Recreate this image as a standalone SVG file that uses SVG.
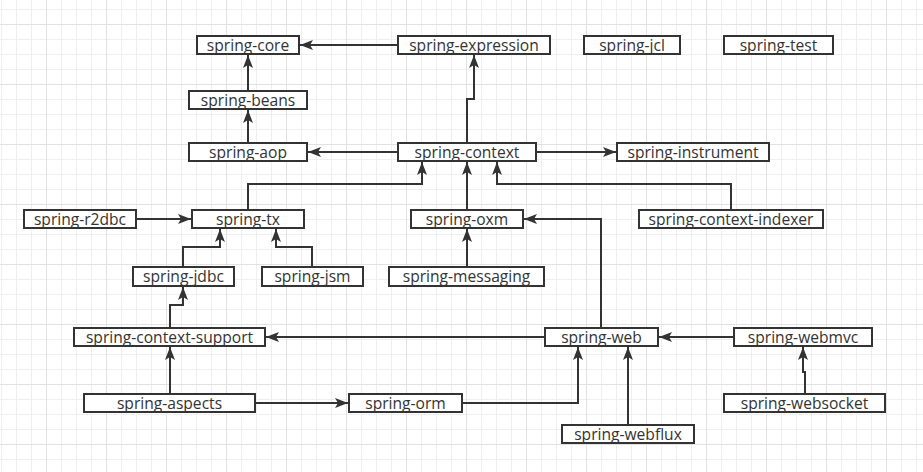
<svg xmlns="http://www.w3.org/2000/svg" width="923" height="472" viewBox="0 0 923 472">
<style>
.n rect{fill:#fff;stroke:#333;stroke-width:2}
.n text{font-family:"Open Sans","Noto Sans",sans-serif;font-size:15.6px;fill:#333;text-anchor:middle}
.c path{fill:none;stroke:#333;stroke-width:2;marker-end:url(#a)}
</style>
<defs>
<pattern id="g1" width="15" height="15" patternUnits="userSpaceOnUse" x="1" y="9"><path d="M0 0.5H15M0.5 0V15" stroke="#efefef" stroke-width="1" fill="none"/></pattern>
<pattern id="g2" width="60" height="60" patternUnits="userSpaceOnUse" x="46" y="24"><path d="M0 0.5H60M0.5 0V60" stroke="#e2e2e2" stroke-width="1" fill="none"/></pattern>
<marker id="a" viewBox="0 0 13 10" markerWidth="13" markerHeight="10" refX="13" refY="5" orient="auto" markerUnits="userSpaceOnUse"><path d="M0 0L13 5L0 10L3 5Z" fill="#333"/></marker>
</defs>
<rect width="923" height="472" fill="#fff"/>
<rect width="923" height="472" fill="url(#g1)"/>
<rect width="923" height="472" fill="url(#g2)"/>
<g class="c" id="connectors">
<path d="M397 45H300"/>
<path d="M248 90V55"/>
<path d="M248 142V110"/>
<path d="M467 142V99H474V55"/>
<path d="M397 152H308"/>
<path d="M537 152H616"/>
<path d="M248 209V184H422V162"/>
<path d="M467 209V162"/>
<path d="M731 209V184H497V162"/>
<path d="M137 219H191"/>
<path d="M183 266V247H220V229"/>
<path d="M312 266V247H276V229"/>
<path d="M467 266V229"/>
<path d="M601 327V219H524"/>
<path d="M170 327V305H183V287"/>
<path d="M544 337H266"/>
<path d="M733 337H659"/>
<path d="M170 393V347"/>
<path d="M256 403H348"/>
<path d="M463 403H578V347"/>
<path d="M628 424V347"/>
<path d="M805 393V372H803V347"/>
</g>
<g class="n" id="spring-core"><rect x="197" y="36" width="102" height="18"/><text x="248" y="50.5">spring-core</text></g>
<g class="n" id="spring-expression"><rect x="398" y="36" width="152" height="18"/><text x="474" y="50.5">spring-expression</text></g>
<g class="n" id="spring-jcl"><rect x="584" y="36" width="96" height="18"/><text x="632" y="50.5">spring-jcl</text></g>
<g class="n" id="spring-test"><rect x="724" y="36" width="109" height="18"/><text x="778.5" y="50.5">spring-test</text></g>
<g class="n" id="spring-beans"><rect x="189" y="91" width="118" height="18"/><text x="248" y="105.5">spring-beans</text></g>
<g class="n" id="spring-aop"><rect x="189" y="143" width="118" height="18"/><text x="248" y="157.5">spring-aop</text></g>
<g class="n" id="spring-context"><rect x="398" y="143" width="138" height="18"/><text x="467" y="157.5">spring-context</text></g>
<g class="n" id="spring-instrument"><rect x="617" y="143" width="152" height="18"/><text x="693" y="157.5">spring-instrument</text></g>
<g class="n" id="spring-r2dbc"><rect x="24" y="210" width="112" height="18"/><text x="80" y="224.5">spring-r2dbc</text></g>
<g class="n" id="spring-tx"><rect x="192" y="210" width="112" height="18"/><text x="248" y="224.5">spring-tx</text></g>
<g class="n" id="spring-oxm"><rect x="411" y="210" width="112" height="18"/><text x="467" y="224.5">spring-oxm</text></g>
<g class="n" id="spring-context-indexer"><rect x="639" y="210" width="184" height="18"/><text x="731" y="224.5">spring-context-indexer</text></g>
<g class="n" id="spring-jdbc"><rect x="133" y="267" width="101" height="19"/><text x="183.5" y="282">spring-jdbc</text></g>
<g class="n" id="spring-jsm"><rect x="262" y="267" width="101" height="19"/><text x="312.5" y="282">spring-jsm</text></g>
<g class="n" id="spring-messaging"><rect x="389" y="267" width="155" height="19"/><text x="466.5" y="282">spring-messaging</text></g>
<g class="n" id="spring-context-support"><rect x="74" y="328" width="191" height="18"/><text x="169.5" y="342.5">spring-context-support</text></g>
<g class="n" id="spring-web"><rect x="545" y="328" width="113" height="18"/><text x="601.5" y="342.5">spring-web</text></g>
<g class="n" id="spring-webmvc"><rect x="734" y="328" width="138" height="18"/><text x="803" y="342.5">spring-webmvc</text></g>
<g class="n" id="spring-aspects"><rect x="84" y="394" width="171" height="18"/><text x="169.5" y="408.5">spring-aspects</text></g>
<g class="n" id="spring-orm"><rect x="349" y="394" width="113" height="18"/><text x="405.5" y="408.5">spring-orm</text></g>
<g class="n" id="spring-websocket"><rect x="724" y="394" width="161" height="18"/><text x="804.5" y="408.5">spring-websocket</text></g>
<g class="n" id="spring-webflux"><rect x="562" y="425" width="132" height="18"/><text x="628" y="439.5">spring-webflux</text></g>
</svg>
